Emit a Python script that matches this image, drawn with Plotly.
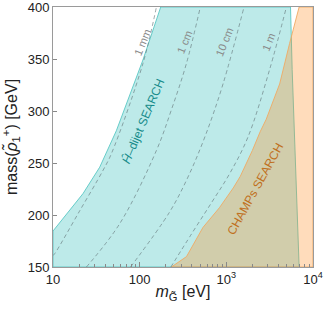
import numpy as np
import plotly.graph_objects as go

# ---- data (x in eV, y in GeV) ----
dijet_left_x = [10, 22.2, 34.6, 53.8, 109, 175]
dijet_left_y = [184.6, 220.6, 246, 281, 349, 400]
dijet_right_x = [5500, 5750, 6030, 6460, 6920]
dijet_right_y = [400, 340, 290, 220, 150]

champ_x = [232, 347, 537, 832, 1202, 1445, 1995, 2455, 2884, 4121, 5370, 6918]
champ_y = [150, 160, 188, 207, 226, 237, 262, 280, 292, 326, 365, 400]

len_1mm_x = [10, 10.5, 20, 37.8, 47.2, 109, 156]
len_1mm_y = [161, 163, 203, 243, 259, 345.6, 400]
len_1cm_x = [24.3, 58.9, 156, 232, 346, 501]
len_1cm_y = [150, 191.7, 262, 301, 345.6, 400]
len_10cm_x = [78.5, 222, 361, 565, 916, 1600]
len_10cm_y = [150, 203, 236.5, 275, 326, 400]
len_1m_x = [229, 398, 676, 1096, 1778, 3162, 4932]
len_1m_y = [150, 182, 212, 240, 275, 340, 400]

x_tickvals = [10, 100, 1000, 10000]
x_ticktext = ["10", "100", "10<sup>3</sup>", "10<sup>4</sup>"]
y_tickvals = [150, 200, 250, 300, 350, 400]

FONT = "Liberation Sans, Arial, sans-serif"

fig = go.Figure()

# H-dijet region
cx = [10] + dijet_left_x + dijet_right_x + [10]
cy = [150] + dijet_left_y + dijet_right_y + [150]
fig.add_trace(go.Scatter(x=cx, y=cy, mode="lines", fill="toself",
                         fillcolor="rgba(0,175,170,0.26)",
                         line=dict(color="rgba(90,200,196,0.9)", width=1),
                         hoverinfo="skip", showlegend=False))

# CHAMPs region
ox = champ_x + [10000, 10000, champ_x[0]]
oy = champ_y + [400, 150, 150]
fig.add_trace(go.Scatter(x=ox, y=oy, mode="lines", fill="toself",
                         fillcolor="rgba(255,140,30,0.30)",
                         line=dict(color="rgba(240,170,100,0.9)", width=1),
                         hoverinfo="skip", showlegend=False))

# decay-length contours
for xs, ys in [(len_1mm_x, len_1mm_y), (len_1cm_x, len_1cm_y),
               (len_10cm_x, len_10cm_y), (len_1m_x, len_1m_y)]:
    fig.add_trace(go.Scatter(x=xs, y=ys, mode="lines",
                             line=dict(color="rgba(100,120,122,0.8)", width=0.8,
                                       dash="4px,3px", shape="spline"),
                             hoverinfo="skip", showlegend=False))

ann = []
for txt, xv, yv in [("1 mm", 109, 366), ("1 cm", 331, 366),
                    ("10 cm", 955, 366), ("1 m", 3090, 366)]:
    ann.append(dict(x=np.log10(xv), y=yv, xref="x", yref="y", text=txt,
                    showarrow=False, textangle=-68,
                    font=dict(family=FONT, size=11, color="#8a8a8a")))
ann.append(dict(x=np.log10(109), y=291, xref="x", yref="y",
                text="<i>Ĥ</i>\u2013dijet SEARCH", showarrow=False, textangle=-67,
                font=dict(family=FONT, size=12, color="#168a8a")))
ann.append(dict(x=np.log10(2160), y=225, xref="x", yref="y",
                text="CHAMPs SEARCH", showarrow=False, textangle=-61,
                font=dict(family=FONT, size=12, color="#c0701e")))

fig.update_layout(
    width=325, height=311,
    margin=dict(l=53, r=12, t=7, b=44, autoexpand=False),
    paper_bgcolor="white", plot_bgcolor="white",
    font=dict(family=FONT, color="#222"),
    annotations=ann,
    xaxis=dict(type="log", range=[1, 4], tickvals=x_tickvals, ticktext=x_ticktext,
               automargin=False, ticklabeloverflow="allow",
               ticks="inside", ticklen=5, tickcolor="#888", tickwidth=0.8,
               minor=dict(ticks="inside", ticklen=3, tickcolor="#888", dtick="D1",
                          showgrid=False),
               showgrid=False, zeroline=False, showline=True, mirror=True,
               linecolor="#9a9a9a", linewidth=1,
               tickfont=dict(size=13),
               title=dict(text="<i>m</i><sub>G\u0303</sub> [eV]", font=dict(size=16),
                          standoff=0)),
    yaxis=dict(range=[150, 400], tickvals=y_tickvals, automargin=False,
               ticklabeloverflow="allow",
               ticks="inside", ticklen=4, tickcolor="#888", tickwidth=0.8,
               showgrid=False, zeroline=False, showline=True, mirror=True,
               linecolor="#9a9a9a", linewidth=1,
               tickfont=dict(size=13),
               title=dict(text="mass(<i>\u03c1\u0303</i><sub>1</sub><sup>+</sup>) [GeV]",
                          font=dict(size=16), standoff=6)),
)

fig.write_html("out.html", config={"displayModeBar": False},
               post_script="document.body.style.margin='0';document.body.style.overflow='hidden';")
